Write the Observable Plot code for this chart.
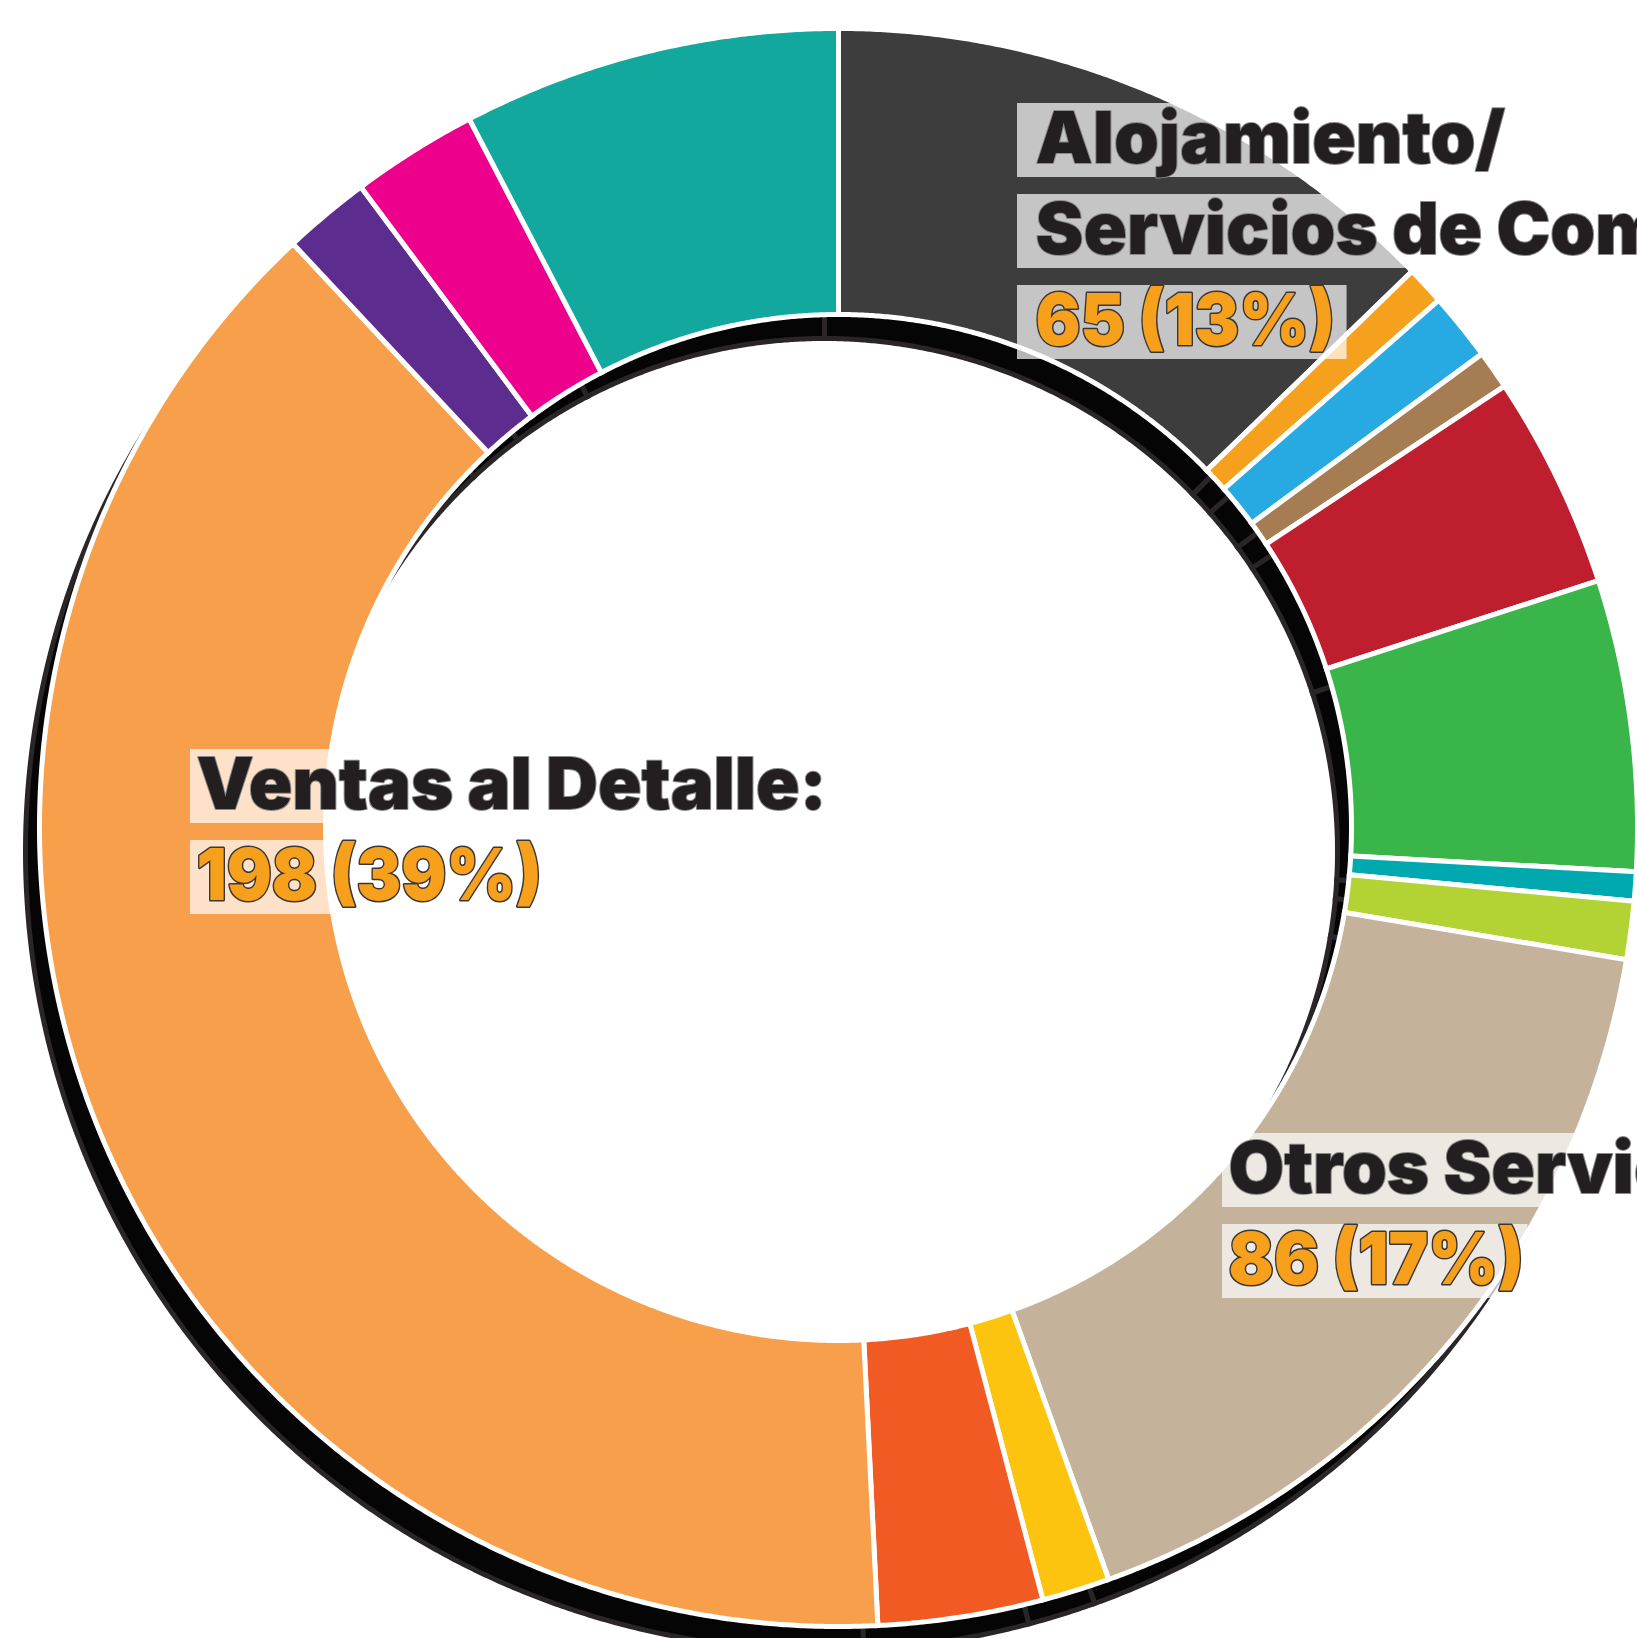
<!DOCTYPE html>
<html>
<head>
<meta charset="utf-8">
<script src="https://cdn.jsdelivr.net/npm/d3@7"></script>
<script src="https://cdn.jsdelivr.net/npm/@observablehq/plot@0.6"></script>
<style>
html, body { margin: 0; padding: 0; background: #fff; overflow: hidden; }
#chart svg { display: block; overflow: hidden; }
</style>
</head>
<body>
<div id="chart"></div>
<script>
// ---------------- data ----------------
const categories = [
  "Alojamiento/Servicios de Comida",
  "Categoría 2", "Categoría 3", "Categoría 4", "Categoría 5", "Categoría 6",
  "Categoría 7", "Categoría 8",
  "Otros Servicios",
  "Categoría 10", "Categoría 11",
  "Ventas al Detalle",
  "Categoría 13", "Categoría 14", "Categoría 15"
];
const values = [65, 4, 7, 4, 22, 30, 3, 6, 86, 7, 17, 198, 9, 13, 39];
const colors = [
  "#3d3d3d", "#f6a11e", "#27aae1", "#a67c52", "#be1e2d", "#3ab54a",
  "#00a9b0", "#b3d334", "#c4b29b", "#fcc40f", "#f15a22", "#f79f4a",
  "#5c2d8e", "#ec008c", "#13a89e"
];
const labelledCategories = ["Alojamiento/Servicios de Comida", "Ventas al Detalle", "Otros Servicios"];
const labelNameLines = [
  ["Alojamiento/", "Servicios de Comida:"],
  ["Ventas al Detalle:"],
  ["Otros Servicios:"]
];

// ---------------- layout (pixels) ----------------
const W = 1637, H = 1638;
const CX = 838, CY = 827, UNIT = 800;       // centre and pixels per unit radius
const R_OUT = 799 / UNIT, R_IN = 513 / UNIT;
const SHADOW_DX = -14, SHADOW_DY = 24;
const FONT = "Inter, Roboto, 'Liberation Sans', sans-serif";
const FS = 72, LINE_GAP = 91, BOX_UP = 59, BOX_H = 74;
const REF_WIDTH = 630;      // pixel width of "Ventas al Detalle:" in the original
const NUMBER_SQUEEZE = 0.93; // the original's figures are narrower than the letters
const labelLayout = [
  {x: 1035, baseline: 162, padL: 18, padR: 12},
  {x: 196,  baseline: 808, padL: 6,  padR: 8},
  {x: 1228, baseline: 1192, padL: 6, padR: 4}
];

// ---------------- geometry from data ----------------
const total = d3.sum(values);
const arcs = d3.pie().sort(null).value(d => d)(values);
const ringPoints = [];
arcs.forEach((a, i) => {
  const span = a.endAngle - a.startAngle;
  const n = Math.max(2, Math.ceil(span / (Math.PI / 720)));
  const ring = [];
  for (let k = 0; k <= n; k++) {
    const t = a.startAngle + span * k / n;
    ring.push([R_OUT * Math.sin(t), R_OUT * Math.cos(t)]);
  }
  for (let k = n; k >= 0; k--) {
    const t = a.startAngle + span * k / n;
    ring.push([R_IN * Math.sin(t), R_IN * Math.cos(t)]);
  }
  ring.push(ring[0]);
  ring.forEach(([x, y]) => ringPoints.push({category: categories[i], x, y}));
});

// label lines built from data
const labelLines = labelledCategories.map((c, li) => {
  const v = values[categories.indexOf(c)];
  return [...labelNameLines[li], `${v} (${Math.round(100 * v / total)}%)`];
});

const textMarks = [];
const textMeta = [];
labelLines.forEach((lines, li) => {
  const L = labelLayout[li];
  lines.forEach((line, ln) => {
    const isNumber = ln === lines.length - 1;
    textMarks.push(Plot.text([line], {
      frameAnchor: "top-left",
      text: d => d,
      dx: L.x,
      dy: L.baseline + ln * LINE_GAP,
      textAnchor: "start",
      lineAnchor: "bottom",
      fontSize: FS,
      fontWeight: 900,
      fontFamily: FONT,
      fill: isNumber ? "#f6a01c" : "#231f20",
      stroke: isNumber ? "#3a3637" : "#8a8a8a",
      strokeWidth: isNumber ? 3 : 2,
      strokeLinejoin: "round",
      paintOrder: "stroke"
    }));
    textMeta.push({li, ln, isNumber});
  });
});

const svg = Plot.plot({
  width: W,
  height: H,
  margin: 0,
  x: {domain: [-CX / UNIT, (W - CX) / UNIT], axis: null},
  y: {domain: [-(H - CY) / UNIT, CY / UNIT], axis: null},
  color: {domain: categories, range: colors},
  marks: [
    // drop shadow: the same donut, black, offset down-left
    Plot.line(ringPoints, {
      x: "x", y: "y", z: "category",
      fill: "#050505", stroke: "#2a2627", strokeWidth: 5,
      strokeLinejoin: "miter", strokeMiterlimit: 4,
      dx: SHADOW_DX, dy: SHADOW_DY, curve: "linear"
    }),
    // donut slices
    Plot.line(ringPoints, {
      x: "x", y: "y", z: "category",
      fill: "category", stroke: "white", strokeWidth: 5,
      strokeLinejoin: "miter", strokeMiterlimit: 4, curve: "linear"
    }),
    ...textMarks
  ]
});
document.getElementById("chart").append(svg);

// ---------- fit label widths and add translucent white boxes ----------
const ns = "http://www.w3.org/2000/svg";
const groups = Array.from(svg.querySelectorAll('g[aria-label="text"]'));
const texts = groups.map(g => g.querySelector("text"));
const refIdx = textMeta.findIndex(m => m.li === 1 && m.ln === 0);
const refLen = texts[refIdx] ? texts[refIdx].getComputedTextLength() : REF_WIDTH;
const k = refLen > 0 ? REF_WIDTH / refLen : 1;
const boxGroup = document.createElementNS(ns, "g");
texts.forEach((t, i) => {
  if (!t) return;
  const m = textMeta[i];
  const w = t.getComputedTextLength() * k * (m.isNumber ? NUMBER_SQUEEZE : 1);
  t.setAttribute("textLength", w);
  t.setAttribute("lengthAdjust", "spacingAndGlyphs");
  const L = labelLayout[m.li];
  const r = document.createElementNS(ns, "rect");
  r.setAttribute("x", L.x - L.padL);
  r.setAttribute("y", L.baseline + m.ln * LINE_GAP - BOX_UP);
  r.setAttribute("width", w + L.padL + L.padR);
  r.setAttribute("height", BOX_H);
  r.setAttribute("fill", "#ffffff");
  r.setAttribute("fill-opacity", 0.7);
  boxGroup.append(r);
});
if (groups.length) groups[0].parentNode.insertBefore(boxGroup, groups[0]);
</script>
</body>
</html>
